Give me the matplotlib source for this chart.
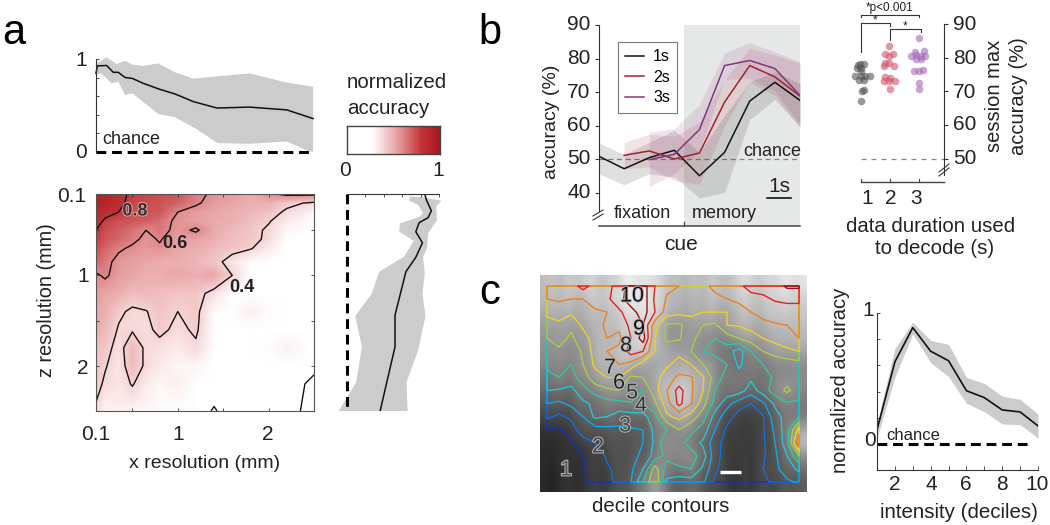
import numpy as np
import matplotlib
matplotlib.use('Agg')
import matplotlib.pyplot as plt
import matplotlib.patheffects as pe
from matplotlib.colors import LinearSegmentedColormap
from matplotlib.lines import Line2D

plt.rcParams['font.family'] = ['Liberation Sans', 'DejaVu Sans']
W, H = 1050, 525
fig = plt.figure(figsize=(10.5, 5.25), dpi=100)
DARK = '#333333'
BAND = '#cccccc'

def axpx(l, t, r, b, **kw):
    return fig.add_axes([l / W, 1 - b / H, (r - l) / W, (b - t) / H], **kw)

# ---------- panel a data
res_x = [.1, .2, .35, .5, .65, .8, 1.0, 1.2, 1.4, 1.6, 1.8, 2.0, 2.2, 2.5]
res_z = [.1, .2, .3, .4, .5, .6, .7, .85, 1.0, 1.2, 1.4, 1.6, 1.8, 2.0, 2.2, 2.5]
heat = [
 [.92,.90,.83,.78,.76,.74,.72,.63,.58,.55,.50,.58,.63,.63],
 [.92,.90,.84,.75,.74,.73,.69,.62,.55,.52,.50,.50,.43,.38],
 [.88,.84,.80,.74,.72,.72,.60,.55,.52,.50,.48,.45,.38,.30],
 [.85,.78,.73,.72,.70,.66,.57,.54,.51,.50,.46,.41,.33,.25],
 [.80,.74,.70,.66,.60,.65,.56,.62,.51,.47,.44,.38,.30,.25],
 [.78,.72,.68,.63,.57,.61,.54,.53,.50,.46,.43,.38,.26,.25],
 [.74,.68,.62,.58,.56,.585,.52,.50,.47,.44,.41,.33,.25,.25],
 [.68,.64,.56,.54,.52,.50,.50,.48,.44,.35,.28,.25,.25,.25],
 [.58,.62,.55,.52,.50,.50,.52,.50,.52,.40,.27,.25,.25,.25],
 [.55,.52,.50,.46,.47,.46,.44,.44,.36,.27,.26,.25,.25,.25],
 [.52,.50,.42,.38,.395,.44,.40,.43,.28,.27,.32,.28,.26,.25],
 [.50,.47,.39,.39,.37,.43,.37,.42,.26,.25,.27,.27,.26,.25],
 [.46,.44,.36,.47,.38,.36,.33,.38,.25,.25,.26,.28,.31,.25],
 [.44,.41,.34,.47,.38,.33,.30,.30,.25,.25,.25,.25,.25,.22],
 [.44,.38,.34,.41,.33,.30,.32,.27,.25,.25,.25,.25,.24,.18],
 [.38,.30,.32,.30,.30,.27,.26,.25,.19,.25,.25,.25,.24,.16],
]
heat_levels = [.2, .4, .6, .8]

top_mean_x = [.10,.115,.217,.29,.345,.42,.50,.62,.80,.97,1.17,1.43,1.79,2.2,2.49]
top_mean_y = [.845,.925,.93,.856,.856,.80,.79,.737,.673,.622,.54,.47,.48,.45,.356]
top_up_x = [.10,.115,.217,.327,.42,.50,.62,.785,.97,1.17,1.79,2.2,2.49]
top_up_y = [.88,.953,1.02,.946,.98,.94,.925,.953,.856,.788,.845,.745,.70]
top_lo_x = [.10,.16,.27,.345,.42,.50,.785,.97,1.21,1.44,1.79,2.2,2.45,2.49]
top_lo_y = [.827,.845,.737,.755,.61,.63,.406,.37,.24,.09,.083,.108,0,0]

side_mean_z = [.10,.166,.285,.362,.418,.517,.64,.80,.96,1.44,1.79,2.5]
side_mean_v = [.845,.863,.917,.881,.784,.748,.82,.748,.64,.522,.522,.36]
side_up_z = [.13,.174,.24,.388,.536,.70,.794,.98,1.2,1.45,1.83,2.18,2.5]
side_up_v = [.79,1.025,.97,.978,.881,.87,.827,.845,.82,.853,.773,.647,.658]
side_lo_z = [.13,.174,.22,.314,.35,.425,.517,.617,.794,.96,1.2,1.45,1.79,2.18,2.29,2.5]
side_lo_v = [.683,.673,.773,.827,.79,.576,.568,.727,.619,.349,.27,.09,.162,.10,.036,-.09]

# ---------- panel b data
time_s = [0, 1, 2, 3, 4, 5, 6, 7, 8]
acc_1s = [50.8, 47.1, 50.4, 52.6, 45.0, 52.0, 67.3, 72.9, 67.5]
acc_1s_up = [54.8, 51.3, 55.0, 58.6, 52.0, 63.0, 73.0, 76.0, 72.5]
acc_1s_lo = [45.6, 42.3, 45.6, 44.6, 38.4, 40.0, 61.8, 67.8, 59.5]
acc_2s = [51.1, 52.4, 50.0, 51.8, 67.0, 77.9, 74.5, 68.8]
acc_2s_up = [55.0, 57.4, 56.8, 61.0, 73.5, 83.0, 81.0, 78.5]
acc_2s_lo = [47.1, 47.6, 43.6, 42.4, 60.0, 73.0, 69.0, 59.7]
acc_3s = [49.8, 51.4, 58.8, 77.9, 79.4, 77.0, 69.0]
acc_3s_up = [58.0, 59.0, 66.3, 81.7, 84.7, 82.0, 79.0]
acc_3s_lo = [41.8, 45.6, 52.4, 73.8, 74.0, 70.5, 60.5]

gray_x = [.886,1.09,1.0,.864,1.0,.807,1.0,1.15,1.3,.92,1.09,1.03,1.09,1.0,.955]
gray_y = [77.8,78,77,77,76,74.5,74.7,74.5,74.5,73.5,73.5,70,70.3,67.2,78]
red_x = [1.966,1.83,2.08,1.966,1.83,1.966,1.77,2.11,1.83,2.0,1.795,1.966,2.17,2.0]
red_y = [83.4,81.1,81.1,80.4,78.5,78.5,77.5,77.5,74.3,74,73,73,73,70.8]
pur_x = [2.97,3.14,2.85,2.7,2.89,3.05,3.19,2.89,3.05,2.82,2.97,3.11,2.97,2.97]
pur_y = [85.9,82.1,81.6,80.6,80.9,80.4,80.4,79.5,79.5,76,76,76.3,72.5,70.7]

# ---------- panel c data
dec_field = [
 [8.3,8.3,8.5,9.4,8.6,8.6,9.5,10.5,10.5,9,8.2,8,8,7.8,8.2,8.4,8.8,9.4,9.4,9.4,10.2,10.2],
 [8,8.1,8,8,8.6,8.8,9.6,10.6,10.6,8.8,7.9,7.5,7.5,7.3,7.8,8,8.2,8.6,8.8,9.1,9.1,9.1],
 [7.3,7.6,7.2,7.8,7.8,8,8.8,9.6,10.5,9,7.5,7.3,7.2,7,7,7,7.6,8,8.5,8.5,8.8,8.8],
 [6.5,6.7,6.2,7.2,7.6,8.2,8.2,9.3,10,7.4,5.8,5.8,6.6,6,5.8,7,7.1,7.4,7.6,7.9,8,8.2],
 [6,6.4,5.8,6.6,7.4,8,7.8,9,10.5,7,5.8,5.9,6.5,5.2,5,5.5,6,6.5,7,7.3,7.5,8],
 [5.7,5.8,5.2,6.2,7.4,8,8.2,9.5,9,7,6.5,6.7,6,5,4.8,4.5,3.5,5,6,6.5,6.8,7],
 [5.4,5.3,5,6,7.2,7.6,8,7.6,6.5,6.2,6.8,7.4,7,6,5.4,5,3.8,4.6,5,5.2,5.4,5.6],
 [4.4,5,4.6,5.5,6.6,7,7,5.8,6,6.6,7.6,8.2,8.1,7.1,5.5,4.6,4.4,4.2,4.5,5.2,5.6,5.7],
 [4,3.9,3.7,4.6,5.4,5.8,6,5.8,5,6.6,8,9.4,8.2,7,5,4.6,4.5,3.5,4.5,5.5,6.2,5.5],
 [3,2.8,3.2,3.8,4.2,4.6,4.7,4.9,5,5.8,7.6,9.3,8.1,6.4,4.6,3.4,2.4,2,2.8,4.2,4.9,4.8],
 [2.2,1.8,2.2,3,4.2,4,3.5,3.6,3.6,4.7,6.8,7.3,6.6,5.4,3.6,2.4,1.6,1.5,1.9,3.6,4.4,5],
 [1,.8,1.5,2.6,2.6,2.7,2.8,2.9,3,4.3,5,6,5.3,4.6,3,1.8,1.4,1.3,1.9,3.2,4.6,7.5],
 [.7,.7,.9,1.5,2,2.3,2.4,2.6,3,4.2,6,5.5,4.5,3.8,2.4,1.6,1.3,1.3,1.8,3,4.6,9],
 [.6,.6,.7,1,1.6,2.1,2.3,2.7,3.2,4.4,5.3,6,5.5,4.5,2.4,1.5,1.3,1.4,1.8,2.8,4,6],
 [.5,.5,.6,.9,1.4,1.9,2.2,2.8,4,6.5,4.5,4.7,5,3.8,2.2,1.5,1.3,1.4,2,2.7,3.6,4.2],
 [.4,.4,.5,.9,1.4,1.8,2.2,3,5,7,3.8,3.5,3.5,3.2,1.8,1.3,1.2,1.5,1.8,2.2,2.8,3.2],
]
dec_levels = [1, 2, 3, 4, 5, 6, 7, 8, 9, 10]
dec_colors = ['#1030c8', '#1070e0', '#10a8f0', '#20c8d8', '#30c8a0',
              '#a8d040', '#f0d020', '#f08020', '#e82020', '#a01010']
# streaky brain texture seen behind the contours (grey level, coarse reading)
texture = [
 [.5,.7,.4,.8,.3,.6,.8,.4,.7,.5,.9,.4,.6,.8,.9,.5,.7,.4,.8,.5,.9,.6,.4,.7,.9,.5,.3,.7,.5,.8,.4,.6],
 [.6,.4,.8,.5,.7,.3,.5,.8,.4,.7,.6,.3,.8,.6,.9,.7,.4,.6,.5,.8,.8,.4,.6,.5,.8,.6,.4,.5,.7,.4,.6,.5],
 [.4,.6,.5,.3,.7,.6,.4,.5,.8,.4,.5,.7,.5,.7,.8,.4,.6,.8,.4,.5,.7,.5,.3,.7,.4,.7,.5,.3,.6,.7,.5,.4],
 [.5,.3,.6,.7,.4,.5,.7,.3,.5,.7,.4,.6,.3,.5,.7,.6,.3,.5,.7,.4,.5,.7,.5,.4,.6,.3,.7,.5,.4,.6,.3,.5],
]

deciles = [1, 2, 3, 4, 5, 6, 7, 8, 9, 10]
int_mean = [.107,.627,.888,.708,.635,.406,.353,.259,.244,.137]
int_up = [.157,.728,.93,.79,.76,.508,.462,.365,.34,.228]
int_lo = [.043,.51,.84,.62,.513,.31,.246,.152,.147,.043]

# ---------- panel a: heat map
reds = LinearSegmentedColormap.from_list('nacc', [(0, '#ffffff'), (.27, '#ffffff'), (.40, '#f6d4d4'),
                                                  (.60, '#e08a8c'), (.80, '#c23338'), (1, '#a8161c')])
ax = axpx(96, 194, 314, 411)
ax.pcolormesh(res_x, res_z, heat, cmap=reds, vmin=0, vmax=1, shading='gouraud', rasterized=True)
ax.contour(res_x, res_z, heat, levels=heat_levels, colors='#111111', linewidths=1.0)
ax.set_xlim(.1, 2.5); ax.set_ylim(2.5, .1)
ax.set_xticks([.1, .5, 1, 1.5, 2]); ax.set_yticks([.1, .5, 1, 1.5, 2])
ax.tick_params(direction='in', length=2, width=.6, color=DARK, labelbottom=False, labelleft=False, top=True, right=True)
for s in ax.spines.values():
    s.set_color('#555555'); s.set_linewidth(.8)

# top marginal
ax = axpx(96, 59, 314, 151.5)
ax.fill(top_up_x + top_lo_x[::-1], top_up_y + top_lo_y[::-1], color=BAND, lw=0, clip_on=False)
ax.plot(top_mean_x, top_mean_y, color='#111111', lw=1.1, clip_on=False)
ax.plot([.1, 2.5], [0, 0], color='k', lw=2.2, dashes=(3.2, 1.9), clip_on=False)
ax.set_xlim(.1, 2.5); ax.set_ylim(0, 1)
ax.set_xticks([]); ax.set_yticks([0, .2, .4, .6, .8, 1])
ax.tick_params(direction='in', length=2, width=.6, color=DARK, labelleft=False)
for k in ('top', 'right', 'bottom'):
    ax.spines[k].set_visible(False)
ax.spines['left'].set_color(DARK); ax.patch.set_alpha(0)

# side marginal
ax = axpx(347, 194, 439, 411)
ax.fill(side_up_v + side_lo_v[::-1], side_up_z + side_lo_z[::-1], color=BAND, lw=0, clip_on=False)
ax.plot(side_mean_v, side_mean_z, color='#111111', lw=1.1)
ax.plot([0, 0], [.1, 2.5], color='k', lw=2.2, dashes=(3.2, 1.9), clip_on=False)
ax.set_xlim(0, 1); ax.set_ylim(2.5, .1)
ax.xaxis.tick_top(); ax.set_yticks([]); ax.set_xticks([0, .2, .4, .6, .8, 1])
ax.tick_params(direction='in', length=2, width=.6, color=DARK, labeltop=False)
for k in ('left', 'right', 'bottom'):
    ax.spines[k].set_visible(False)
ax.spines['top'].set_color(DARK); ax.patch.set_alpha(0)

# colour bar
ax = axpx(347, 126, 440, 154)
ax.imshow(np.linspace(0, 1, 256)[None, :], aspect='auto', cmap=reds, vmin=0, vmax=1)
ax.set_xticks([]); ax.set_yticks([])
for s in ax.spines.values():
    s.set_color('#444444'); s.set_linewidth(1)

# ---------- panel b: time courses
ax = axpx(599, 25, 800, 226)
ax.set_xlim(0, 8); ax.set_ylim(30, 90)
ax.axvspan(3.38, 8, color='#e6e8e8', lw=0, zorder=0)
ax.plot([0, 8], [50, 50], color='#888888', lw=.9, dashes=(4, 3), zorder=1)
series = [(time_s, acc_1s, acc_1s_up, acc_1s_lo, '#111111', .13),
          (time_s[1:], acc_2s, acc_2s_up, acc_2s_lo, '#a5202f', .12),
          (time_s[2:], acc_3s, acc_3s_up, acc_3s_lo, '#85357f', .13)]
for t, m, u, l, c, a in series:
    ax.fill_between(t, l, u, color=c, alpha=a, lw=0, zorder=2)
for (t, m, u, l, c, a), lab in zip(series, ['1s', '2s', '3s']):
    ax.plot(t, m, color=c, lw=1.1, zorder=3, label=lab)
ax.set_xticks([]); ax.set_yticks([40, 50, 60, 70, 80, 90])
ax.tick_params(labelleft=False, length=3, width=.8, color=DARK, pad=2)
for k in ('top', 'right', 'bottom'):
    ax.spines[k].set_visible(False)
ax.spines['left'].set_bounds(34.5, 90); ax.spines['left'].set_color(DARK)
leg = ax.legend(loc='upper left', bbox_to_anchor=(19 / 201, 1 - 17 / 201), bbox_transform=ax.transAxes,
                fontsize=11.5, fancybox=False, edgecolor='#777777', framealpha=1, borderaxespad=0,
                handlelength=1.2, handletextpad=.55, labelspacing=.35, borderpad=.45)
leg.get_frame().set_linewidth(.8)

# ---------- panel b: session maxima
ax = axpx(861, 24, 944, 175)
ax.set_xlim(1, 1 + 83 / 29.3)
ax.set_ylim(50 - 16 / 3.36, 90)
ax.scatter(gray_x, gray_y, s=30, color='#555555', alpha=.6, lw=0, clip_on=False)
ax.scatter(red_x, red_y, s=30, color='#cf5566', alpha=.6, lw=0, clip_on=False)
ax.scatter(pur_x, pur_y, s=30, color='#a868b8', alpha=.6, lw=0, clip_on=False)
ax.plot([1, 1 + 83 / 29.3], [50, 50], color='#888888', lw=.9, dashes=(4, 4))
ax.yaxis.tick_right(); ax.set_xticks([]); ax.set_yticks([50, 60, 70, 80, 90])
ax.tick_params(labelright=False, length=3, width=.8, color=DARK)
for k in ('top', 'left', 'bottom'):
    ax.spines[k].set_visible(False)
ax.spines['right'].set_color(DARK); ax.patch.set_alpha(0)

# ---------- panel c: contours over intensity
F = np.array(dec_field, float)
gx = np.linspace(547, 799, F.shape[1])
gy = np.linspace(286, 482, F.shape[0])
ax = axpx(540, 275, 807, 492)
dx, dy = gx[1] - gx[0], gy[1] - gy[0]
ax.imshow(np.pad(F, 1, mode='edge'), cmap='gray', vmin=-.5, vmax=10.5, interpolation='bicubic', aspect='auto',
          extent=[gx[0] - 1.5 * dx, gx[-1] + 1.5 * dx, gy[-1] + 1.5 * dy, gy[0] - 1.5 * dy], zorder=0)
ax.imshow(texture, cmap='gray', vmin=0, vmax=1, alpha=.2, interpolation='bicubic', aspect='auto',
          extent=[540, 807, 492, 275], zorder=1)
ax.set_xlim(540, 807); ax.set_ylim(492, 275)
cx = np.r_[gx[0] - .01, gx, gx[-1] + .01]
cy = np.r_[gy[0] - .01, gy, gy[-1] + .01]
ax.contour(cx, cy, np.pad(F, 1, constant_values=-50), levels=dec_levels, colors=dec_colors, linewidths=1.0, zorder=2)
ax.axis('off')

# ---------- panel c: intensity curve
ax = axpx(877, 313, 1038, 470)
ax.fill_between(deciles, int_lo, int_up, color=BAND, lw=0)
ax.plot(deciles, int_mean, color='#111111', lw=1.2)
ax.plot([1, 9.5], [0, 0], color='k', lw=2.2, dashes=(3.2, 1.9))
ax.set_xlim(1, 10); ax.set_ylim(-.2, 1)
ax.set_xticks(deciles); ax.set_yticks([0, .2, .4, .6, .8, 1])
ax.tick_params(axis='y', direction='in', length=2, width=.6, color=DARK, labelleft=False)
ax.tick_params(axis='x', direction='in', length=3, width=.6, color=DARK, labelbottom=False)
for k in ('top', 'right'):
    ax.spines[k].set_visible(False)
for k in ('left', 'bottom'):
    ax.spines[k].set_color(DARK)

# ---------- pixel overlay for labels and annotation strokes
ov = fig.add_axes([0, 0, 1, 1], zorder=20)
ov.set_xlim(0, W); ov.set_ylim(H, 0); ov.axis('off'); ov.patch.set_alpha(0)

def T(x, y, s, size=14, ha='center', rot=0, color='#222222', **kw):
    return ov.text(x, y, s, fontsize=size, ha=ha, va='center', rotation=rot, color=color, **kw)

def L(xs, ys, c=DARK, lw=.9, **kw):
    ov.add_line(Line2D(xs, ys, color=c, lw=lw, **kw))

NUM = 15
T(14, 33, 'a', 30, color='k'); T(490, 33, 'b', 30, color='k'); T(490, 293, 'c', 30, color='k')

T(81, 60, '1', NUM); T(81, 152, '0', NUM)
T(131, 139, 'chance', 13)
T(347, 83, 'normalized', 14.8, ha='left'); T(347, 108, 'accuracy', 14.8, ha='left')
T(345, 170, '0', NUM); T(438, 170, '1', NUM)
T(72, 196, '0.1', NUM); T(83, 276, '1', NUM); T(83, 368, '2', NUM)
T(96, 434, '0.1', NUM); T(178, 434, '1', NUM); T(268, 434, '2', NUM)
T(205, 463, 'x resolution (mm)', 14)
T(47, 300, 'z resolution (mm)', 14.3, rot=90)
T(135, 211, '0.8', 13, color='#333333', fontweight='bold',
  path_effects=[pe.withStroke(linewidth=1.2, foreground='#e8b0b0')])
T(175, 243, '0.6', 13, color='#222222', fontweight='bold')
T(242, 288, '0.4', 13, color='#222222', fontweight='bold')

for v, y in zip([90, 80, 70, 60, 50, 40], [25, 58.5, 92, 125.5, 159, 192.5]):
    T(579, y, str(v), NUM)
T(552, 122, 'accuracy (%)', 14, rot=90)
T(642, 214, 'fixation', 13); T(724, 214, 'memory', 13)
T(772, 152, 'chance', 13); T(779, 186, '1s', NUM)
L([767, 791], [198, 198], 'k', 1.1)
L([599, 800], [226, 226], '#444444', 1.1)
L([684, 684], [222, 226], '#444444', .9)
T(681, 244, 'cue', NUM)
L([593, 603], [220, 214], DARK, .8); L([593, 603], [216, 210], DARK, .8)

L([861, 944], [182, 182], '#444444', 1.0)
for x in (861, 890, 919):
    L([x, x], [179, 182], '#444444', .8)
T(867, 199, '1', NUM); T(891, 199, '2', NUM); T(916, 199, '3', NUM)
for v, y in zip([90, 80, 70, 60, 50], [24, 58, 92, 125, 159]):
    T(965, y, str(v), NUM)
L([939, 949], [176, 168], DARK, .8); L([939, 949], [172, 164], DARK, .8)
T(994, 96, 'session max', 14.5, rot=90); T(1019, 96, 'accuracy (%)', 14.5, rot=90)
T(931, 227, 'data duration used', 14.7); T(935, 249, 'to decode (s)', 14.7)
L([861, 861, 919, 919], [17, 15, 15, 17], DARK, .8)
L([861, 861, 890, 890], [52, 23, 23, 26], DARK, .8)
L([890, 890, 921, 921], [40, 29, 29, 32], DARK, .8)
T(890, 8, '*p<0.001', 8.5); T(875, 20, '*', 8.5); T(905, 26, '*', 8.5)

halo = [pe.withStroke(linewidth=1.4, foreground='#bbbbbb')]
for (x, y, s, c) in [(632, 296, '10', '#111111'), (639, 329, '9', '#111111'), (626, 346, '8', '#222222'),
                     (610, 368, '7', '#222222'), (619, 383, '6', '#222222'), (632, 393, '5', '#333333'),
                     (641, 406, '4', '#333333'), (625, 426, '3', '#444444'), (598, 447, '2', '#444444'),
                     (566, 470, '1', '#555555')]:
    T(x, y, s, 15.5, color=c, path_effects=halo)
L([720, 741], [472, 472], 'w', 2.4, solid_capstyle='butt')
T(661, 507, 'decile contours', 14.7)

T(841, 380, 'normalized accuracy', 14.5, rot=90)
T(868, 310, '1', NUM); T(870, 441, '0', NUM); T(913, 436, 'chance', 12)
for d, x in zip([2, 4, 6, 8, 10], [895, 931, 966, 1002, 1037]):
    T(x, 485, str(d), NUM)
T(959, 512, 'intensity (deciles)', 14.8)

fig.savefig('out.png', dpi=100)
